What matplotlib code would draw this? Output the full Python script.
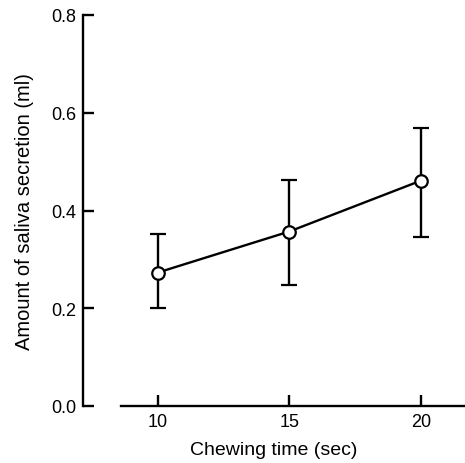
import matplotlib
matplotlib.use("Agg")
import matplotlib.pyplot as plt
import numpy as np

plt.rcParams['font.family'] = ['Liberation Sans', 'DejaVu Sans']

chewing_time = [10, 15, 20]
saliva_mean = [0.273, 0.357, 0.461]
err_upper = [0.351, 0.462, 0.569]
err_lower = [0.200, 0.248, 0.345]
y_ticks = [0.0, 0.2, 0.4, 0.6, 0.8]
x_ticks = [10, 15, 20]

mean = np.array(saliva_mean)
yerr = np.array([mean - np.array(err_lower), np.array(err_upper) - mean])

fig = plt.figure(figsize=(4.65, 4.64), dpi=100)
ax = fig.add_axes([83/465, 57/464, 1 - 83/465, 391/464])

ax.errorbar(chewing_time, saliva_mean, yerr=yerr, color='black', lw=1.7,
            elinewidth=1.7, capsize=5.5, capthick=1.7, marker='o', ms=9,
            mfc='white', mec='black', mew=1.6, zorder=3)

ax.set_xlim(7.16, 21.68)
ax.set_ylim(0, 0.8)
ax.set_xticks(x_ticks)
ax.set_yticks(y_ticks)
ax.set_yticklabels([f"{v:.1f}" for v in y_ticks])
for s in ['top', 'right']:
    ax.spines[s].set_visible(False)
for s in ['left', 'bottom']:
    ax.spines[s].set_linewidth(1.7)
ax.spines['bottom'].set_bounds(8.59, 21.68)
ax.spines['left'].set_bounds(0, 0.8)
ax.tick_params(direction='in', length=8, width=1.7, labelsize=13, pad=5)
for lab in ax.get_yticklabels() + ax.get_xticklabels():
    lab.set_clip_on(False)

ax.set_xlabel("Chewing time (sec)", fontsize=14, labelpad=8)
ax.set_ylabel("Amount of saliva secretion (ml)", fontsize=14.5, labelpad=12)

fig.savefig("out.png", dpi=100)
